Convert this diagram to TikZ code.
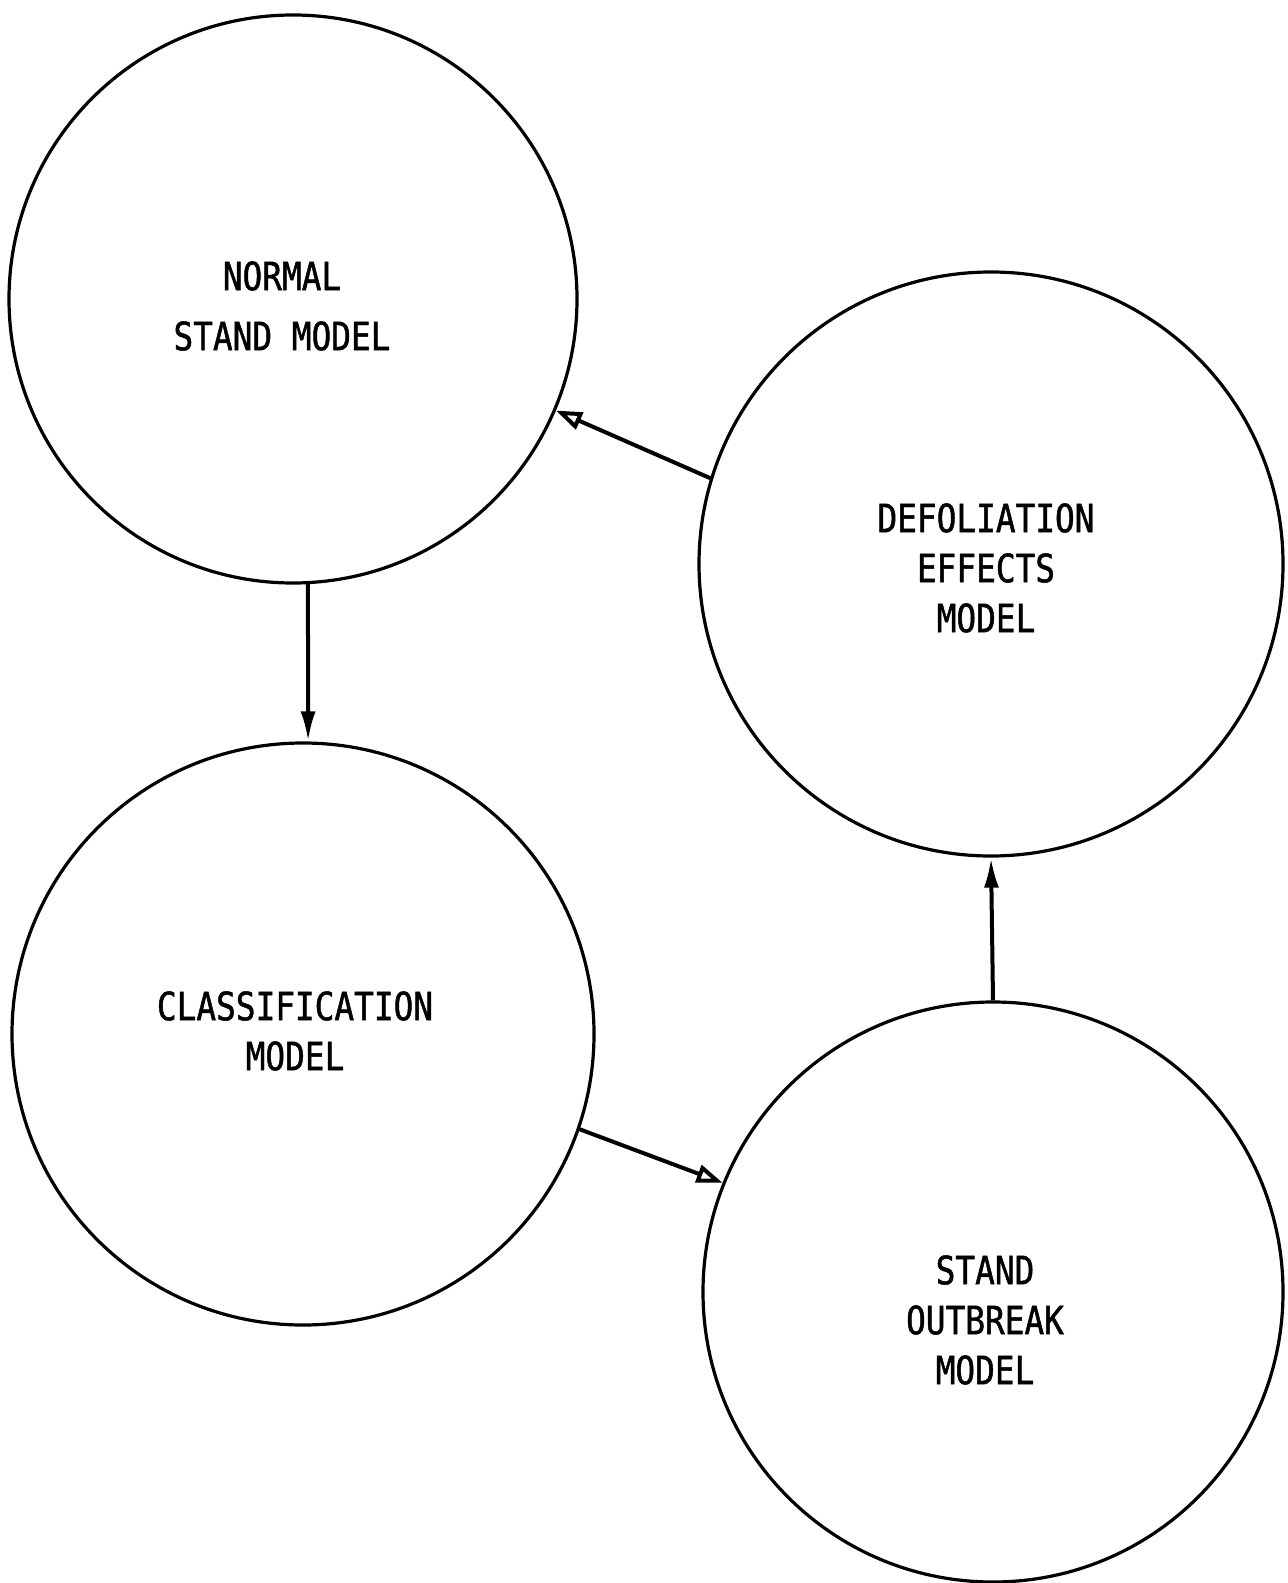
\documentclass[tikz,border=0pt]{standalone}
\usepackage{fontspec}
\setmonofont[FakeStretch=0.84, FakeBold=1.2]{DejaVu Sans Mono}
\usetikzlibrary{arrows.meta}
\tikzset{model/.style = {draw, circle, line width = 1.6pt, inner sep = 0}}
\tikzset{modeltext/.style = {align = center, font = \ttfamily\fontsize{19.5}{25}\selectfont}}
\tikzset{solidhead/.style = {-{Latex[length = 15pt, width = 7.5pt]}, line width = 2pt}}
\tikzset{openhead/.style = {-{Triangle[open, length = 13pt, width = 9pt]}, line width = 2pt}}

\begin{document}
\begin{tikzpicture}[x = 0.5pt, y = -0.5pt]
      \useasboundingbox (0, 0) rectangle (1288, 1583);

      \node [model, minimum size = 284pt] (normal) at (293, 299) {};
      \node [model, minimum size = 292pt] (defol) at (991, 564) {};
      \node [model, minimum size = 291pt] (class) at (303, 1034) {};
      \node [model, minimum size = 290pt] (outbreak) at (993, 1292) {};

      \node [modeltext] (normaltext) at (282, 306) {NORMAL\\[5pt]STAND MODEL};
      \node [modeltext] (defoltext) at (986, 568) {DEFOLIATION\\EFFECTS\\MODEL};
      \node [modeltext] (classtext) at (295, 1031) {CLASSIFICATION\\MODEL};
      \node [modeltext] (outbreaktext) at (985, 1320) {STAND\\OUTBREAK\\MODEL};

    % flow between the four models
      \draw [solidhead] (normal.-87) -- (class.89);
      \draw [openhead] (class.-19) -- (outbreak.158);
      \draw [solidhead] (outbreak.90) -- (defol.-90);
      \draw [openhead] (defol.163) -- (normal.-23);
\end{tikzpicture}
\end{document}
